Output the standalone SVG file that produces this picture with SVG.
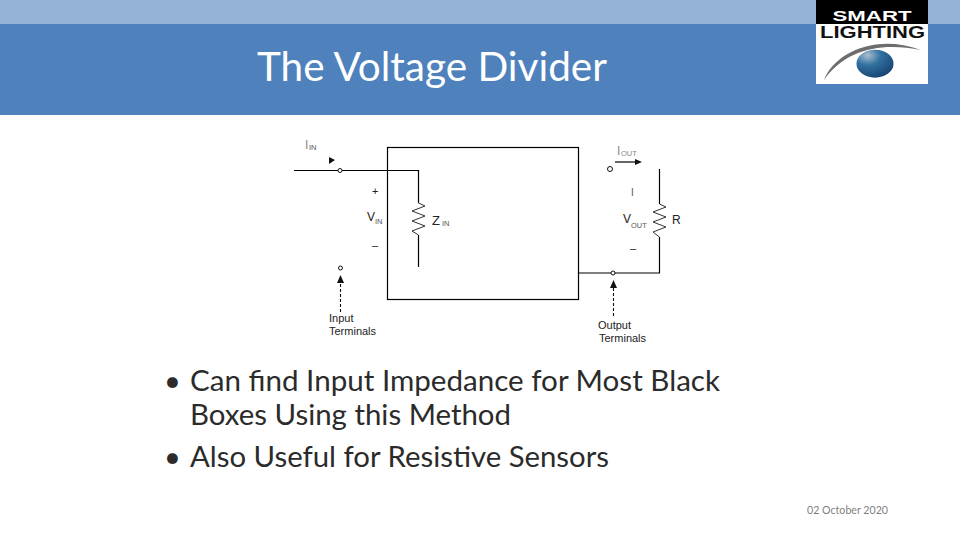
<svg xmlns="http://www.w3.org/2000/svg" width="960" height="540" viewBox="0 0 960 540">
<style>
.w{fill:none;stroke:#000;stroke-width:1.2}
.z{fill:none;stroke:#333;stroke-width:1}
.d{fill:none;stroke:#111;stroke-width:1.1;stroke-dasharray:3 2}
.t{font-family:"Liberation Sans",Arial,sans-serif;fill:#222;font-size:11px}
.s{font-family:"Liberation Sans",Arial,sans-serif;fill:#555;font-size:7.5px}
.b{font-family:Lato,"Noto Sans",sans-serif;fill:#2b2b2b;font-size:29px}
.o{fill:#fff;stroke:#111;stroke-width:1}
</style>
<defs>
<radialGradient id="g" cx="0.3" cy="0.2" r="0.9"><stop offset="0" stop-color="#a9bfd2"/><stop offset="0.4" stop-color="#31709f"/><stop offset="1" stop-color="#143f6e"/></radialGradient>
</defs>
<rect width="960" height="540" fill="#fff"/>
<rect width="960" height="24" fill="#95b3d7"/>
<rect y="24" width="960" height="91" fill="#4f81bd"/>
<text x="257" y="81" font-family="Lato,'Open Sans',sans-serif" font-size="40" fill="#fff" textLength="350" lengthAdjust="spacingAndGlyphs">The Voltage Divider</text>
<g id="logo">
<rect x="816" y="0" width="112" height="84" fill="#fff"/>
<rect x="816" y="0" width="112" height="24" fill="#000"/>
<text x="872" y="20.500" text-anchor="middle" font-family="'Liberation Sans',Arial,sans-serif" font-weight="700" font-size="15.500" fill="#fff" textLength="79" lengthAdjust="spacingAndGlyphs">SMART</text>
<text x="872.500" y="37.500" text-anchor="middle" font-family="'Liberation Sans',Arial,sans-serif" font-weight="700" font-size="17" fill="#111" textLength="105" lengthAdjust="spacingAndGlyphs">LIGHTING</text>
<path d="M824 80C834 54 874 33 921 50C880 42 845 50 824 80Z" fill="#6d6d70"/>
<ellipse cx="875" cy="63.700" rx="18.500" ry="14" fill="url(#g)"/>
</g>
<g id="connectors">
<rect class="w" x="387.500" y="147.500" width="191" height="152"/>
<path class="w" d="M294 170.500H418.500V203M418.500 235V267"/>
<path class="z" d="M418.500 203L425 206L412 211L425 216L412 221L425 226L412 231L418.500 235"/>
<path class="w" d="M659.500 169V204M659.500 237V273H579"/>
<path class="z" d="M659.500 204L666 207L653 212L666 217L653 222L666 227L653 232L659.500 237"/>
<path class="w" d="M615 162H637"/>
<path d="M642 162L635 159V165Z" fill="#111"/>
<path d="M335 160L329 157V164Z" fill="#111"/>
<path class="d" d="M340.500 312V281"/>
<path d="M340.500 275L337 283H344Z" fill="#111"/>
<path class="d" d="M613.500 316V286"/>
<path d="M613.500 280L610 288H617Z" fill="#111"/>
<circle class="o" cx="340" cy="170.500" r="2"/>
<circle class="o" cx="340.500" cy="268" r="2"/>
<circle class="o" cx="610" cy="169" r="2.500"/>
<circle class="o" cx="613" cy="273" r="2"/>
</g>
<g id="labels">
<text class="t" x="305" y="149" style="fill:#888;font-size:12px">I</text><text class="s" x="309" y="150">IN</text>
<text class="t" x="372" y="195">+</text>
<text class="t" x="367" y="221" style="font-size:12px">V</text><text class="s" x="375" y="224">IN</text>
<text class="t" x="372" y="249">–</text>
<text class="t" x="432" y="225" style="font-size:13px">Z</text><text class="s" x="442" y="226">IN</text>
<text class="t" x="329" y="322" style="font-size:11px">Input</text>
<text class="t" x="329" y="335" style="font-size:11px">Terminals</text>
<text class="t" x="617" y="155" style="fill:#888;font-size:12px">I</text><text class="s" x="621" y="156" style="fill:#888">OUT</text>
<text class="t" x="631" y="196" style="font-size:10px;fill:#555">I</text>
<text class="t" x="623" y="223" style="font-size:12px">V</text><text class="s" x="631" y="228">OUT</text>
<text class="t" x="630" y="252">–</text>
<text class="t" x="672" y="224" style="font-size:12px">R</text>
<text class="t" x="598" y="329" style="font-size:11px">Output</text>
<text class="t" x="599" y="342" style="font-size:11px">Terminals</text>
</g>
<g id="bullets">
<text class="b" x="164" y="391">•</text><text class="b" x="190" y="391" textLength="530" lengthAdjust="spacingAndGlyphs">Can find Input Impedance for Most Black</text>
<text class="b" x="190" y="425" textLength="321" lengthAdjust="spacingAndGlyphs">Boxes Using this Method</text>
<text class="b" x="164" y="467">•</text><text class="b" x="190" y="467" textLength="419" lengthAdjust="spacingAndGlyphs">Also Useful for Resistive Sensors</text>
</g>
<text x="807" y="514" font-family="Lato,'Open Sans',sans-serif" font-size="11" fill="#7f7f7f" textLength="81" lengthAdjust="spacingAndGlyphs">02 October 2020</text>
</svg>
